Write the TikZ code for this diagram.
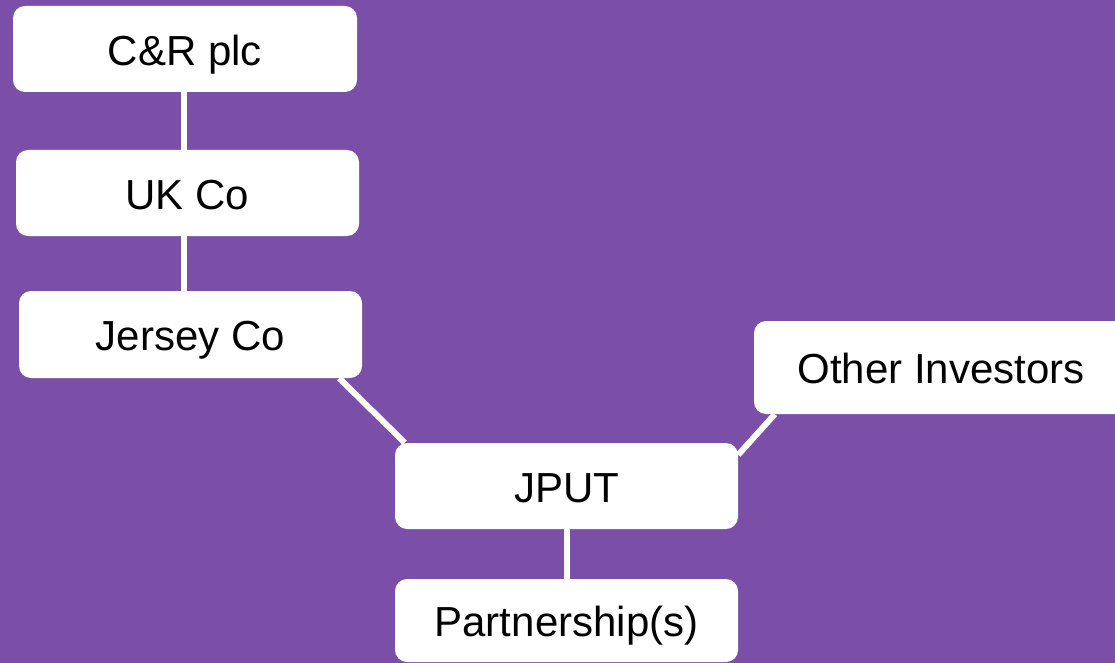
\documentclass[tikz,border=0pt]{standalone}
\usepackage{xcolor}
\usepackage{fontspec}
\setmainfont{Liberation Sans}
\usepackage{tikz}
\definecolor{bgpurple}{HTML}{7B4FA8}

\tikzset{
  entity/.style={fill=white, rounded corners=12pt, inner sep=0pt,
                 minimum width=343pt, minimum height=86pt,
                 text height=32.5pt, text depth=0pt,
                 font=\fontsize{42}{50}\selectfont},
  link/.style={draw=white, line width=6pt}
}

\begin{document}
\begin{tikzpicture}[x=1pt, y=-1pt]
    \fill[bgpurple] (0,0) rectangle (1115,663);
    \useasboundingbox (0,0) rectangle (1115,663);
    % ownership chain
    \node[entity, minimum width=344pt] (crplc) at (185,49) {C\&R plc};
    \node[entity] (ukco) at (187.5,193) {UK Co};
    \node[entity, minimum height=87pt] (jerseyco) at (190.5,334.5) {Jersey Co};
    \node[entity, minimum width=374pt, minimum height=93pt] (others) at (941,367.5) {Other Investors};
    \node[entity] (jput) at (566.5,486) {JPUT};
    \node[entity, minimum height=83pt] (partnership) at (566.5,620.5) {Partnership(s)};
    % links
    \draw[link] ([xshift=-1pt]crplc.south) -- ([xshift=-1pt]crplc.south |- ukco.north);
    \draw[link] ([xshift=-3.5pt]ukco.south) -- ([xshift=-3.5pt]ukco.south |- jerseyco.north);
    \draw[link] ([xshift=-23pt]jerseyco.south east) -- ([xshift=10pt]jput.north west);
    \draw[link] ([xshift=21pt]others.south west) -- ([yshift=-12pt]jput.north east);
    \draw[link] (jput.south) -- (partnership.north);
  \end{tikzpicture}
\end{document}
